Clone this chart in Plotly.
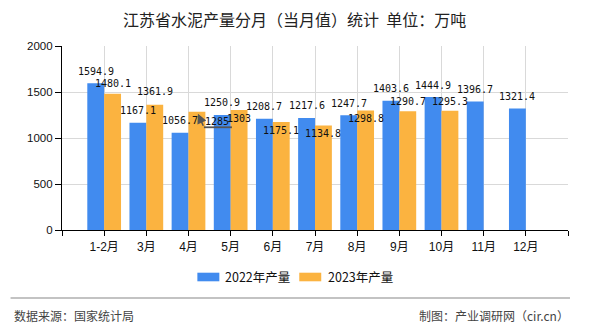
import plotly.graph_objects as go

# ---------------- data ----------------
months = ["1-2月", "3月", "4月", "5月", "6月", "7月", "8月", "9月", "10月", "11月", "12月"]
prod_2022 = [1594.9, 1167.1, 1056.7, 1250.9, 1208.7, 1217.6, 1247.7, 1403.6, 1444.9, 1396.7, 1321.4]
prod_2023 = [1480.1, 1361.9, 1285, 1303, 1175.1, 1134.8, 1298.8, 1290.7, 1295.3, None, None]
series_names = ["2022年产量", "2023年产量"]
y_ticks = [0, 500, 1000, 1500, 2000]

# ---------------- style ----------------
BLUE = "#418BEF"
ORANGE = "#FBB340"
CJK = "Noto Sans CJK SC"
LBL_FONT = dict(family="DejaVu Sans Mono, " + CJK, size=10, color="#111")
# label vertical offsets in px (positive = above bar top)
shift_2022 = [12] * 11
shift_2023 = [10, 13, None, -8, -9, -8, -8, 10, 9.5, None, None]

W, H = 590, 330
ML, MR, MT, MB = 61.5, 22, 46, 100
plot_w = W - ML - MR
plot_h = H - MT - MB
X0, X1 = -1, len(months)
Y0, Y1 = 0, 2000
ux = (X1 - X0) / plot_w   # data units per px (x)
uy = (Y1 - Y0) / plot_h   # data units per px (y)

xs = list(range(len(months)))
BW = 0.4

fig = go.Figure()
fig.add_trace(go.Bar(x=[i - BW / 2 for i in xs], y=prod_2022, width=BW, name=series_names[0],
                     marker=dict(color=BLUE, line=dict(width=0)), showlegend=False))
fig.add_trace(go.Bar(x=[i + BW / 2 for i in xs], y=prod_2023, width=BW, name=series_names[1],
                     marker=dict(color=ORANGE, line=dict(width=0)), showlegend=False))

ann = []
def fmt(v):
    return ("%g" % v)

for i, v in enumerate(prod_2022):
    ann.append(dict(x=i - BW / 2, y=v, xref="x", yref="y", text=fmt(v), showarrow=False,
                    yshift=shift_2022[i], font=LBL_FONT, xanchor="center", yanchor="middle"))
for i, v in enumerate(prod_2023):
    if v is None:
        continue
    if shift_2023[i] is None:
        # leader-line label
        cx = i + BW / 2
        tip_x = cx + 1 * ux
        tip_y = v - 2 * uy
        ann.append(dict(x=tip_x, y=tip_y, xref="x", yref="y", text="", showarrow=True,
                        ax=6, ay=13.5, arrowhead=2, arrowsize=1.2, arrowwidth=1.6,
                        arrowcolor="#555"))
        fig.add_shape(type="line", xref="x", yref="y",
                      x0=tip_x + 6 * ux, x1=tip_x + 34 * ux,
                      y0=tip_y - 13.5 * uy, y1=tip_y - 13.5 * uy,
                      line=dict(color="#555", width=1.8))
        ann.append(dict(x=tip_x + 19.5 * ux, y=tip_y - 8 * uy, xref="x", yref="y", text=fmt(v),
                        showarrow=False, font=LBL_FONT, xanchor="center", yanchor="middle"))
        continue
    ann.append(dict(x=i + BW / 2, y=v, xref="x", yref="y", text=fmt(v), showarrow=False,
                    yshift=shift_2023[i], font=LBL_FONT, xanchor="center", yanchor="middle"))

def px_to_paper_x(px):
    return (px - ML) / plot_w
def px_to_paper_y(py):
    return (H - MB - py) / plot_h

ann.append(dict(x=px_to_paper_x(294), y=px_to_paper_y(18.5), xref="paper", yref="paper",
                text="江苏省水泥产量分月（当月值）统计\u00a0\u00a0单位：万吨", showarrow=False,
                xanchor="center", yanchor="middle", font=dict(family=CJK, size=16, color="#222")))

# custom legend
legend_items = [(BLUE, series_names[0], 197, 223), (ORANGE, series_names[1], 299, 326)]
for col, name, sx, tx in legend_items:
    fig.add_shape(type="rect", xref="paper", yref="paper",
                  x0=px_to_paper_x(sx), x1=px_to_paper_x(sx + 22),
                  y0=px_to_paper_y(281.3), y1=px_to_paper_y(272.7),
                  fillcolor=col, line=dict(width=0))
    ann.append(dict(x=px_to_paper_x(tx), y=px_to_paper_y(276.7), xref="paper", yref="paper",
                    text=name, showarrow=False, xanchor="left", yanchor="middle",
                    font=dict(family=CJK, size=12.5, color="#111")))

# separator + footer
fig.add_shape(type="line", xref="paper", yref="paper",
              x0=px_to_paper_x(10), x1=px_to_paper_x(570),
              y0=px_to_paper_y(298), y1=px_to_paper_y(298),
              line=dict(color="#888", width=1.2))
ann.append(dict(x=px_to_paper_x(11), y=px_to_paper_y(315), xref="paper", yref="paper",
                text="数据来源：国家统计局", showarrow=False, xanchor="left", yanchor="middle",
                font=dict(family=CJK, size=12, color="#444")))
ann.append(dict(x=px_to_paper_x(571), y=px_to_paper_y(315), xref="paper", yref="paper",
                text="制图：产业调研网（cir.cn）", showarrow=False, xanchor="right", yanchor="middle",
                font=dict(family=CJK, size=12, color="#444")))

fig.update_layout(
    width=W, height=H,
    margin=dict(l=ML, r=MR, t=MT, b=MB, pad=0),
    paper_bgcolor="white", plot_bgcolor="white",
    barmode="overlay",
    showlegend=False,
    annotations=ann,
    xaxis=dict(range=[X0, X1], tickmode="array",
               tickvals=list(range(X0, X1 + 1)),
               ticktext=[""] + months + [""],
               showgrid=True, gridcolor="#d9d9d9", gridwidth=1,
               showline=True, linecolor="#000", linewidth=1.2,
               ticks="outside", ticklen=5, tickcolor="#000", tickwidth=1,
               tickfont=dict(family="Liberation Sans, " + CJK, size=12, color="#111"),
               zeroline=False, fixedrange=True),
    yaxis=dict(range=[Y0, Y1], tickmode="array", tickvals=y_ticks,
               ticktext=[str(t) for t in y_ticks],
               showgrid=True, gridcolor="#d9d9d9", gridwidth=1,
               showline=True, linecolor="#000", linewidth=1.2,
               ticks="outside", ticklen=6, tickcolor="#000", tickwidth=1,
               tickfont=dict(family="Liberation Sans", size=11.5, color="#111"),
               zeroline=False, fixedrange=True),
)

fig.write_html("out.html", config={"displayModeBar": False})
